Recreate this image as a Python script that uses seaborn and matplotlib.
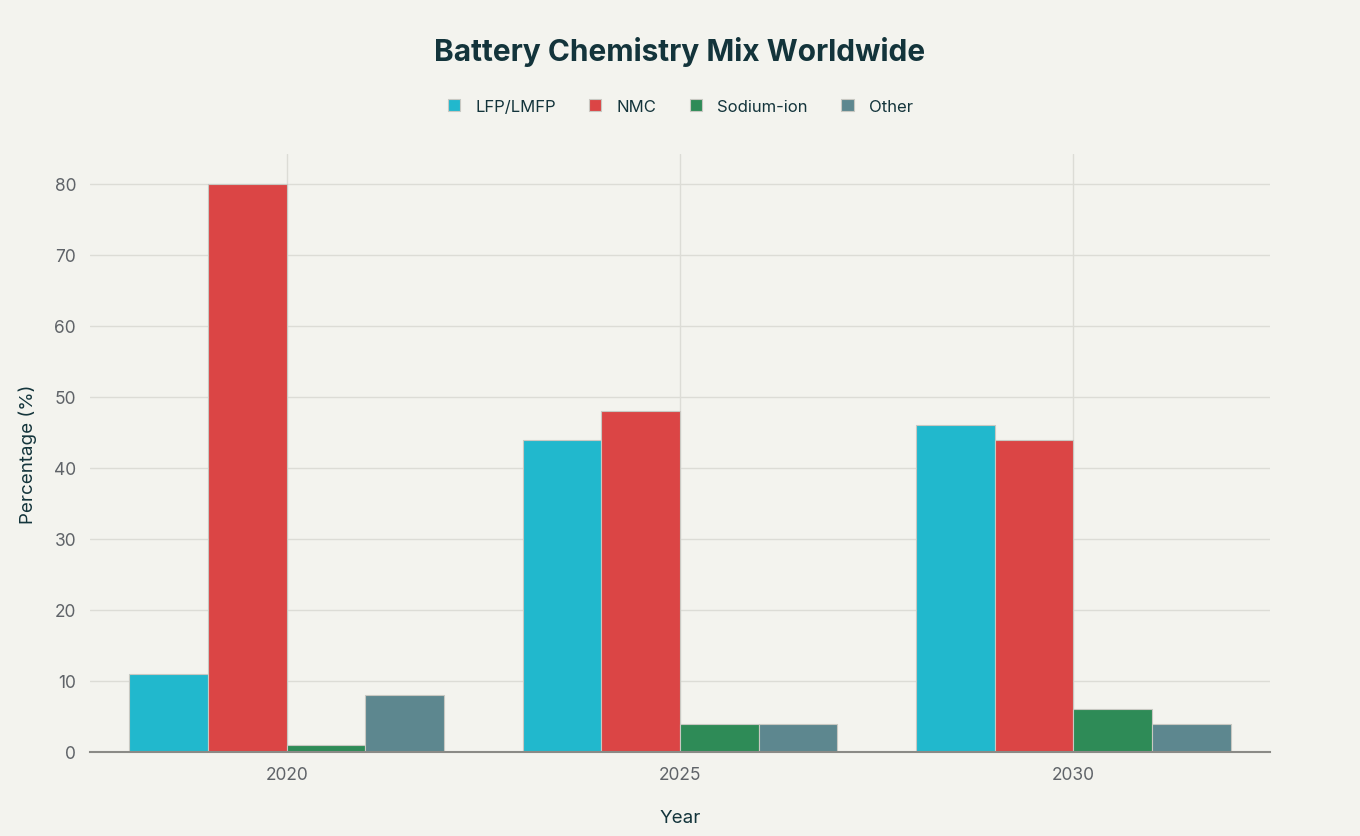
import matplotlib
matplotlib.use("Agg")
import matplotlib.pyplot as plt
import seaborn as sns
import pandas as pd

years = ["2020", "2025", "2030"]
chemistries = ["LFP/LMFP", "NMC", "Sodium-ion", "Other"]
lfp = [11, 44, 46]
nmc = [80, 48, 44]
sodium = [1, 4, 6]
other = [8, 4, 4]
colors = ["#21B8CD", "#DB4545", "#2E8B57", "#5D878F"]

rows = []
for name, vals in zip(chemistries, [lfp, nmc, sodium, other]):
    for y, v in zip(years, vals):
        rows.append({"Year": y, "Chemistry": name, "Percentage": v})
df = pd.DataFrame(rows)

bg = "#F3F3EE"
sns.set_theme(style="white")
plt.rcParams["font.family"] = ["Inter", "DejaVu Sans"]

fig = plt.figure(figsize=(13.6, 8.37), dpi=100, facecolor=bg)
ax = fig.add_axes([90 / 1360, (837 - 753) / 837, 1180 / 1360, (753 - 155) / 837])
ax.set_facecolor(bg)

sns.barplot(data=df, x="Year", y="Percentage", hue="Chemistry", order=years,
            hue_order=chemistries, palette=colors, width=0.8, ax=ax,
            edgecolor="#c8c8c2", linewidth=0.8, saturation=1, legend=True)

ax.set_xlim(-0.5, 2.5)
ax.set_ylim(0, 84.2)
ax.set_yticks([0, 10, 20, 30, 40, 50, 60, 70, 80])
ax.grid(True, axis="both", color="#dcdcd6", linewidth=1)
ax.set_axisbelow(True)
for s in ["top", "right", "left"]:
    ax.spines[s].set_visible(False)
ax.spines["bottom"].set_color("#8a8a86")
ax.spines["bottom"].set_linewidth(1.5)
ax.tick_params(axis="both", colors="#dcdcd6", length=6, width=1, labelcolor="#5f6368",
               labelsize=12.5, pad=4)

ax.set_xlabel("Year", fontsize=13.5, color="#13343B", labelpad=19)
ax.set_ylabel("Percentage (%)", fontsize=13.5, color="#13343B", labelpad=12)

handles, labels = ax.get_legend_handles_labels()
ax.legend_.remove()
fig.legend(handles, labels, loc="center", bbox_to_anchor=(0.5, 1 - 107 / 837), ncol=4,
           frameon=False, fontsize=12, handlelength=0.75, handleheight=0.75,
           columnspacing=2.0, handletextpad=0.9, labelcolor="#13343B")

fig.text(0.5, 1 - 52 / 837, "Battery Chemistry Mix Worldwide", ha="center", va="center",
         fontsize=21.5, fontweight="bold", color="#13343B")

fig.savefig("out.png", dpi=100, facecolor=bg)
